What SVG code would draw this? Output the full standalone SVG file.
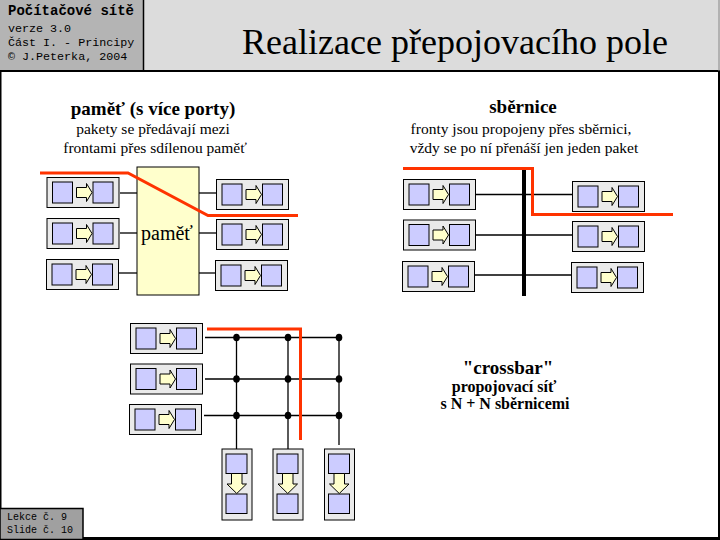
<svg xmlns="http://www.w3.org/2000/svg" xmlns:xlink="http://www.w3.org/1999/xlink" width="720" height="540" viewBox="0 0 720 540">
<style>
.mono{font-family:"Liberation Mono","DejaVu Sans Mono",monospace;fill:#000}
.serif{font-family:"Liberation Serif","Times New Roman","DejaVu Serif",serif;fill:#000}
.h{font-weight:bold;font-size:19px;text-anchor:middle}
.s{font-size:15.5px;text-anchor:middle}
.ln{stroke:#000;stroke-width:1.3;fill:none}
.red{stroke:#ff3300;stroke-width:3;fill:none}
.qb{fill:#eaeaea;stroke:#000;stroke-width:1}
.sq{fill:#ccccff;stroke:#000;stroke-width:1}
.ar{fill:#ffffcc;stroke:#000;stroke-width:1}
</style>
<defs>
<g id="qh">
<rect class="qb" x="0.5" y="0.5" width="72" height="30"/>
<rect class="sq" x="6" y="5" width="20" height="21"/>
<rect class="sq" x="46.5" y="5" width="20" height="21"/>
<polygon class="ar" points="30,10.5 40,10.5 40,6.5 45.5,15.5 40,24.5 40,20.5 30,20.5"/>
</g>
<g id="qv">
<rect class="qb" x="0.5" y="0.5" width="30" height="71"/>
<rect class="sq" x="4.5" y="5.5" width="21" height="19.5"/>
<rect class="sq" x="4.5" y="45.5" width="21" height="19.5"/>
<polygon class="ar" points="10,25 20.5,25 20.5,35.5 25,35.5 15.25,45 5.5,35.5 10,35.5"/>
</g>
</defs>
<rect width="720" height="540" fill="#fff"/>
<g id="header">
<rect x="0" y="0" width="143" height="71" fill="#b4b4b4"/>
<rect x="143" y="0" width="577" height="71" fill="#dcdcdc"/>
<line x1="143.5" y1="0" x2="143.5" y2="71" stroke="#000" stroke-width="1.5"/>
<line x1="0" y1="71" x2="720" y2="71" stroke="#000" stroke-width="2"/>
<line x1="719" y1="0" x2="719" y2="71" stroke="#888" stroke-width="1"/>
<text class="mono" x="8" y="15" font-size="14" font-weight="bold">Počítačové sítě</text>
<text class="mono" x="8" y="31.5" font-size="11.7">verze 3.0</text>
<text class="mono" x="8" y="45.5" font-size="11.7">Část I. - Principy</text>
<text class="mono" x="8" y="60" font-size="11.7">© J.Peterka, 2004</text>
<text class="serif" x="455" y="54" font-size="36" text-anchor="middle" fill="#222">Realizace přepojovacího pole</text>
</g>
<g id="frame">
<line x1="0.75" y1="71" x2="0.75" y2="540" stroke="#000" stroke-width="1.5"/>
<line x1="719" y1="71" x2="719" y2="540" stroke="#000" stroke-width="2"/>
<line x1="0" y1="538.5" x2="720" y2="538.5" stroke="#000" stroke-width="3"/>
<rect x="0" y="508.5" width="83" height="31" fill="#a0a0a0" stroke="#000" stroke-width="1.5"/>
<text class="mono" x="7" y="520" font-size="10">Lekce č. 9</text>
<text class="mono" x="7" y="533" font-size="10">Slide č. 10</text>
</g>
<g id="texts">
<text class="serif h" x="153" y="115">paměť (s více porty)</text>
<text class="serif s" x="153" y="133.5">pakety se předávají mezi</text>
<text class="serif s" x="155" y="153">frontami přes sdílenou paměť</text>
<text class="serif h" x="523" y="113">sběrnice</text>
<text class="serif s" x="521" y="133.5">fronty jsou propojeny přes sběrnici,</text>
<text class="serif s" x="524" y="153">vždy se po ní přenáší jen jeden paket</text>
<text class="serif h" x="508" y="374">"crossbar"</text>
<text class="serif" x="504" y="391.5" font-size="16" font-weight="bold" text-anchor="middle">propojovací síť</text>
<text class="serif" x="505" y="408.5" font-size="16" font-weight="bold" text-anchor="middle">s N + N sběrnicemi</text>
</g>
<g id="connectors">
<line class="ln" x1="120" y1="193" x2="137" y2="193"/>
<line class="ln" x1="120" y1="233" x2="137" y2="233"/>
<line class="ln" x1="119" y1="273" x2="137" y2="273"/>
<line class="ln" x1="199" y1="193" x2="216" y2="193"/>
<line class="ln" x1="199" y1="233" x2="216" y2="233"/>
<line class="ln" x1="199" y1="273" x2="215" y2="273"/>
<line class="ln" x1="476" y1="194.5" x2="572" y2="194.5"/>
<line class="ln" x1="476" y1="235" x2="572" y2="235"/>
<line class="ln" x1="474" y1="275" x2="571" y2="275"/>
<line x1="524" y1="170" x2="524" y2="296" stroke="#000" stroke-width="4"/>
<line class="ln" x1="205" y1="337.5" x2="339" y2="337.5"/>
<line class="ln" x1="205" y1="379" x2="339" y2="379"/>
<line class="ln" x1="204" y1="415.5" x2="339" y2="415.5"/>
<line class="ln" x1="236.5" y1="337.5" x2="236.5" y2="449"/>
<line class="ln" x1="288" y1="337.5" x2="288" y2="449"/>
<line class="ln" x1="339" y1="337.5" x2="339" y2="445"/>
<g fill="#000">
<ellipse cx="236.5" cy="337.5" rx="3.3" ry="3.8"/>
<ellipse cx="288" cy="337.5" rx="3.3" ry="3.8"/>
<ellipse cx="339" cy="337.5" rx="3.3" ry="3.8"/>
<ellipse cx="236.5" cy="379" rx="3.3" ry="3.8"/>
<ellipse cx="288" cy="379" rx="3.3" ry="3.8"/>
<ellipse cx="339" cy="379" rx="3.3" ry="3.8"/>
<ellipse cx="236.5" cy="415.5" rx="3.3" ry="3.8"/>
<ellipse cx="288" cy="415.5" rx="3.3" ry="3.8"/>
<ellipse cx="339" cy="415.5" rx="3.3" ry="3.8"/>
</g>
</g>
<g id="memory">
<rect x="137" y="167" width="62" height="128" fill="#ffffcc" stroke="#000" stroke-width="1"/>
<text class="serif" x="167" y="240" font-size="20" text-anchor="middle" fill="#990000">paměť</text>
</g>
<g id="mem-in1"><use xlink:href="#qh" x="46.5" y="177"/></g>
<g id="mem-in2"><use xlink:href="#qh" x="46.5" y="218"/></g>
<g id="mem-in3"><use xlink:href="#qh" x="46" y="259"/></g>
<g id="mem-out1"><use xlink:href="#qh" x="216" y="179"/></g>
<g id="mem-out2"><use xlink:href="#qh" x="216" y="219"/></g>
<g id="mem-out3"><use xlink:href="#qh" x="215" y="260"/></g>
<g id="bus-in1"><use xlink:href="#qh" x="403" y="179"/></g>
<g id="bus-in2"><use xlink:href="#qh" x="403" y="219.5"/></g>
<g id="bus-in3"><use xlink:href="#qh" x="402" y="261"/></g>
<g id="bus-out1"><use xlink:href="#qh" x="572" y="181"/></g>
<g id="bus-out2"><use xlink:href="#qh" x="572" y="221"/></g>
<g id="bus-out3"><use xlink:href="#qh" x="571" y="262"/></g>
<g id="xb-in1"><use xlink:href="#qh" x="130" y="323"/></g>
<g id="xb-in2"><use xlink:href="#qh" x="130" y="363.5"/></g>
<g id="xb-in3"><use xlink:href="#qh" x="129" y="404"/></g>
<g id="xb-out1"><use xlink:href="#qv" x="221.5" y="448.5"/></g>
<g id="xb-out2"><use xlink:href="#qv" x="272.5" y="448.5"/></g>
<g id="xb-out3"><use xlink:href="#qv" x="324" y="448.5"/></g>
<g id="paths">
<polyline class="red" points="40,173 128,173 208,215.5 298,215.5"/>
<polyline class="red" points="403,168.5 532.5,168.5 532.5,214.5 673,214.5"/>
<polyline class="red" points="207,329 300.5,329 300.5,440"/>
</g>
</svg>
